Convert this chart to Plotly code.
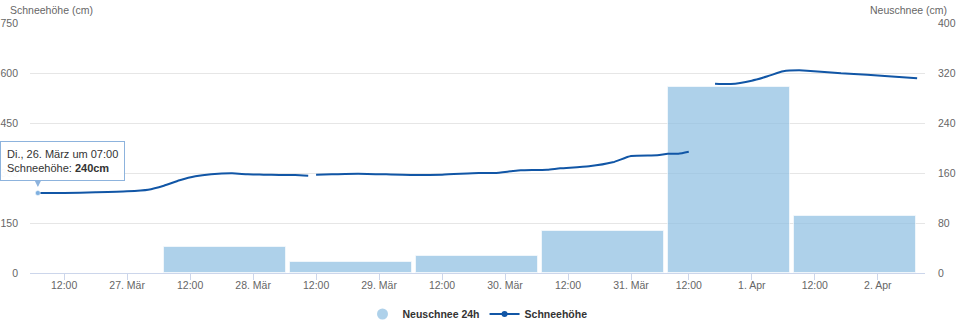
import pandas as pd
import plotly.graph_objects as go

# ---------------- data (local time, Europe/Berlin) ----------------
line_times = [
    "2019-03-26 07:00", "2019-03-26 12:00", "2019-03-26 18:00", "2019-03-27 00:00",
    "2019-03-27 04:00", "2019-03-27 07:00", "2019-03-27 10:00", "2019-03-27 13:00",
    "2019-03-27 16:00", "2019-03-27 20:00", "2019-03-27 23:00", "2019-03-28 02:00",
    "2019-03-28 05:00", "2019-03-28 08:00", "2019-03-28 10:30", "2019-03-28 11:15",
    "2019-03-28 12:00", "2019-03-28 15:00", "2019-03-28 20:00", "2019-03-29 06:00",
    "2019-03-29 12:00", "2019-03-29 19:00", "2019-03-29 22:00", "2019-03-30 01:30",
    "2019-03-30 03:00", "2019-03-30 08:00", "2019-03-30 10:30", "2019-03-30 16:00",
    "2019-03-30 20:30", "2019-03-31 00:00", "2019-03-31 06:00", "2019-03-31 08:00",
    "2019-03-31 10:00", "2019-03-31 12:00", "2019-03-31 14:00", "2019-03-31 17:00",
    "2019-03-31 20:00", "2019-04-01 00:00", "2019-04-01 03:00", "2019-04-01 06:00",
    "2019-04-01 09:00", "2019-04-01 10:30", "2019-04-01 17:00", "2019-04-01 22:00",
    "2019-04-02 02:00", "2019-04-02 07:30",
]
schneehoehe = [
    240, 240, 242, 245,
    250, 262, 278, 290,
    296, 299, 296, 295,
    294, 294, 292, None,
    295, 296, 298, 294,
    295, 300, 300, 306,
    308, 310, 314, 320,
    332, 351, 353, 358,
    358, 364, None, 568,
    567, 577, 590, 605,
    608, 607, 599, 595,
    590, 584,
]

bar_times = ["2019-03-27 18:40", "2019-03-28 18:40", "2019-03-29 18:40",
             "2019-03-30 18:40", "2019-03-31 19:40", "2019-04-01 19:40"]
neuschnee = [42, 17, 28, 68, 298, 92]

tick_times = ["2019-03-26 12:00", "2019-03-27 00:00", "2019-03-27 12:00", "2019-03-28 00:00",
              "2019-03-28 12:00", "2019-03-29 00:00", "2019-03-29 12:00", "2019-03-30 00:00",
              "2019-03-30 12:00", "2019-03-31 00:00", "2019-03-31 12:00", "2019-04-01 00:00",
              "2019-04-01 12:00", "2019-04-02 00:00"]
tick_labels = ["12:00", "27. Mär", "12:00", "28. Mär", "12:00", "29. Mär", "12:00",
               "30. Mär", "12:00", "31. Mär", "12:00", "1. Apr", "12:00", "2. Apr"]

left_ticks = [0, 150, 300, 450, 600, 750]
right_ticks = [0, 80, 160, 240, 320, 400]

tooltip_date = "Di., 26. März um 07:00"

# ---------------- helpers ----------------
DST_START = pd.Timestamp("2019-03-31 02:00")


def to_utc(s):
    t = pd.Timestamp(s)
    return t - pd.Timedelta(hours=2 if t >= DST_START else 1)


line_x = [to_utc(s) for s in line_times]
bar_x = [to_utc(s) for s in bar_times]
tick_x = [to_utc(s) for s in tick_times]

FONT = "Liberation Sans, Arial, sans-serif"
LINE_C = "#1156a6"
BAR_C = "rgba(140,190,225,0.7)"
BAR_WIDTH_MS = 23.3 * 3600 * 1000

fig = go.Figure()

fig.add_trace(go.Bar(
    x=bar_x, y=neuschnee, width=[BAR_WIDTH_MS] * len(bar_x),
    marker=dict(color=BAR_C, line=dict(color="rgba(255,255,255,0.6)", width=1)),
    name="Neuschnee 24h", showlegend=False, yaxis="y", hoverinfo="skip",
))

fig.add_trace(go.Scatter(
    x=line_x, y=schneehoehe, mode="lines", line=dict(color=LINE_C, width=2, shape="spline", smoothing=0.6),
    connectgaps=False, name="Schneehöhe", showlegend=False, yaxis="y2", hoverinfo="skip",
))

# hovered point marker
fig.add_trace(go.Scatter(
    x=[line_x[0]], y=[schneehoehe[0]], mode="markers",
    marker=dict(color="#7fb0e0", size=5, line=dict(color="#ffffff", width=0.5)),
    showlegend=False, yaxis="y2", hoverinfo="skip",
))

# legend entries
fig.add_trace(go.Scatter(
    x=[None], y=[None], mode="markers", name="Neuschnee 24h",
    marker=dict(color=BAR_C, size=11, symbol="circle"), yaxis="y",
))
fig.add_trace(go.Scatter(
    x=[None], y=[None], mode="lines+markers", name="Schneehöhe",
    line=dict(color=LINE_C, width=2), marker=dict(color=LINE_C, size=6, symbol="circle"), yaxis="y2",
))

fig.update_layout(
    width=959, height=325,
    margin=dict(l=30, r=34, t=23, b=52, autoexpand=False),
    paper_bgcolor="white", plot_bgcolor="white",
    font=dict(family=FONT, color="#666666", size=10),
    hovermode=False,
    bargap=0,
    xaxis=dict(
        type="date", automargin=False,
        range=["2019-03-26 04:30", "2019-04-02 07:00"],
        tickmode="array", tickvals=tick_x, ticktext=tick_labels,
        showgrid=False, zeroline=False,
        showline=True, linecolor="#ccd6eb", linewidth=1,
        ticks="outside", ticklen=6, tickcolor="#ccd6eb", tickwidth=1,
        tickfont=dict(size=10.5, color="#666666"),
        ticklabelstandoff=-4,
    ),
    yaxis=dict(
        side="right", range=[0, 400], tickmode="array", tickvals=right_ticks, automargin=False,
        showgrid=True, gridcolor="#e6e6e6", gridwidth=1, zeroline=False,
        showline=False, ticks="", tickfont=dict(size=10.5, color="#666666"),
        ticklabelstandoff=12,
    ),
    yaxis2=dict(
        side="left", overlaying="y", range=[0, 750], tickmode="array", tickvals=left_ticks,
        automargin=False,
        showgrid=False, zeroline=False, showline=False, ticks="",
        tickfont=dict(size=10.5, color="#666666"), ticklabelstandoff=11,
    ),
    legend=dict(
        orientation="h", x=0.5, xanchor="center", y=-0.164, yanchor="middle",
        font=dict(family=FONT, size=10.5, color="#333333", weight="bold"),
        itemwidth=30, tracegroupgap=0, bgcolor="rgba(0,0,0,0)",
    ),
)

# axis titles
fig.add_annotation(text="Schneehöhe (cm)", xref="paper", yref="paper",
                   x=-22 / 895, y=1 + 13 / 250, xanchor="left", yanchor="middle",
                   showarrow=False, font=dict(size=10.5, color="#666666", family=FONT))
fig.add_annotation(text="Neuschnee (cm)", xref="paper", yref="paper",
                   x=1 + 24 / 895, y=1 + 13 / 250, xanchor="right", yanchor="middle",
                   showarrow=False, font=dict(size=10.5, color="#666666", family=FONT))

# tooltip
fig.add_annotation(
    text=f"{tooltip_date}<br>Schneehöhe: <b>{schneehoehe[0]}cm</b>",
    x=line_x[0], y=schneehoehe[0], xref="x", yref="y2",
    xanchor="left", yanchor="bottom", xshift=-38, yshift=12,
    showarrow=False, align="left",
    font=dict(size=11, color="#333333", family=FONT),
    bgcolor="rgba(255,255,255,0.96)", bordercolor="#8db3dd", borderwidth=1, borderpad=6,
)
fig.add_annotation(
    text="", x=line_x[0], y=schneehoehe[0], xref="x", yref="y2",
    showarrow=True, ax=0, ay=-12, standoff=6, arrowhead=2, arrowsize=1.2,
    arrowwidth=1, arrowcolor="#8db3dd",
)

fig.write_html("out.html")
